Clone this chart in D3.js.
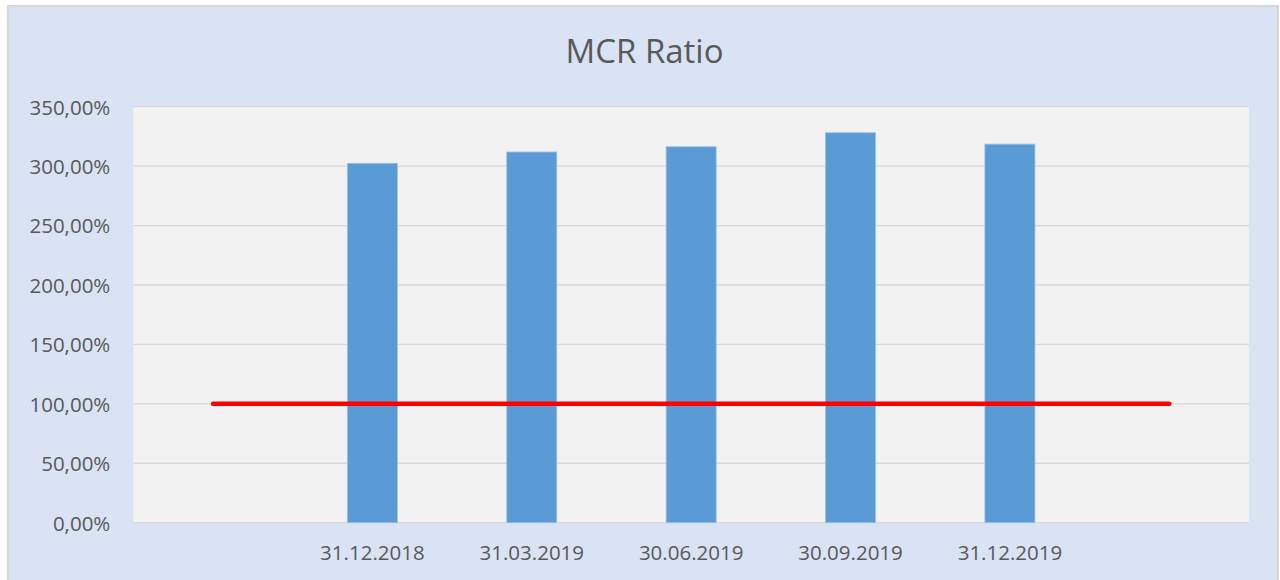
<!DOCTYPE html>
<html>
<head>
<meta charset="utf-8">
<script src="https://cdn.jsdelivr.net/npm/d3@7"></script>
<style>
	html, body { margin: 0; padding: 0; background: #fff; }
	svg { display: block; font-family: 'Open Sans', sans-serif; }
	.axis text { fill: #595959; font-size: 20.5px; font-family: 'Open Sans', sans-serif; }
	.axis path, .axis line { display: none; }
</style>
</head>
<body>
<svg id="chart" width="1280" height="580"></svg>
<script>
// categories (first and last are empty slots, as in the source sheet)
const categories = ['', '31.12.2018', '31.03.2019', '30.06.2019', '30.09.2019', '31.12.2019', '']
const mcrValues = [null, 302.4, 311.9, 316.3, 328.1, 318.5, null]
const thresholdValues = [100, 100, 100, 100, 100, 100, 100]
const yTicks = [0, 50, 100, 150, 200, 250, 300, 350]
const title = 'MCR Ratio'

const width = 1280, height = 580
const plot = { left: 133.3, top: 106.7, right: 1249, bottom: 522.7 }

const svg = d3.select('#chart')

// outer chart area
svg.append('rect')
	.attr('x', 8).attr('y', 6)
	.attr('width', 1270).attr('height', 590)
	.attr('fill', '#dae3f3')
	.attr('stroke', '#d6d6d6')
	.attr('stroke-width', 2)

// plot area
svg.append('rect')
	.attr('x', plot.left).attr('y', plot.top)
	.attr('width', plot.right - plot.left).attr('height', plot.bottom - plot.top)
	.attr('fill', '#f2f2f2')

let x = d3.scaleBand()
	.domain(d3.range(categories.length))
	.range([plot.left, plot.right])
	.paddingInner(0.686)
	.paddingOuter(0.343)
let y = d3.scaleLinear()
	.domain([0, 350])
	.range([plot.bottom, plot.top])

const locale = d3.formatLocale({ decimal: ',', thousands: '.', grouping: [3], currency: ['', '€'] })
const pct = d => locale.format(',.2f')(d) + '%'

// gridlines
svg.append('g')
	.selectAll('line')
	.data(yTicks)
	.join('line')
	.attr('x1', plot.left).attr('x2', plot.right)
	.attr('y1', d => y(d)).attr('y2', d => y(d))
	.attr('stroke', '#d9d9d9')
	.attr('stroke-width', 1.3)

// y axis
svg.append('g')
	.attr('class', 'axis')
	.attr('transform', `translate(${plot.left - 15},0)`)
	.call(d3.axisLeft(y).tickValues(yTicks).tickFormat(pct).tickSize(0).tickPadding(8))
	.selectAll('text').attr('dy', '0.36em')

// x axis
svg.append('g')
	.attr('class', 'axis')
	.attr('transform', `translate(0,${plot.bottom})`)
	.call(d3.axisBottom(x).tickFormat(i => categories[i]).tickSize(0).tickPadding(23))
	.selectAll('text').attr('dy', '0.71em')

// bars
svg.append('g')
	.selectAll('rect')
	.data(mcrValues.map((v, i) => ({ i, v })).filter(d => d.v != null))
	.join('rect')
	.attr('x', d => x(d.i))
	.attr('y', d => y(d.v))
	.attr('width', x.bandwidth())
	.attr('height', d => y(0) - y(d.v))
	.attr('fill', '#5b9bd5')
	.attr('stroke', '#9cc2e8')
	.attr('stroke-width', 0.8)

// 100% threshold line
let line = d3.line()
	.x((d, i) => x(i) + x.bandwidth() / 2)
	.y(d => y(d))
svg.append('path')
	.attr('d', line(thresholdValues))
	.attr('fill', 'none')
	.attr('stroke', '#ff0000')
	.attr('stroke-width', 4.5)
	.attr('stroke-linecap', 'round')

// title
svg.append('text')
	.attr('x', 644.5).attr('y', 62.5)
	.attr('text-anchor', 'middle')
	.attr('fill', '#595959')
	.attr('font-size', 33)
	.text(title)
</script>
</body>
</html>
